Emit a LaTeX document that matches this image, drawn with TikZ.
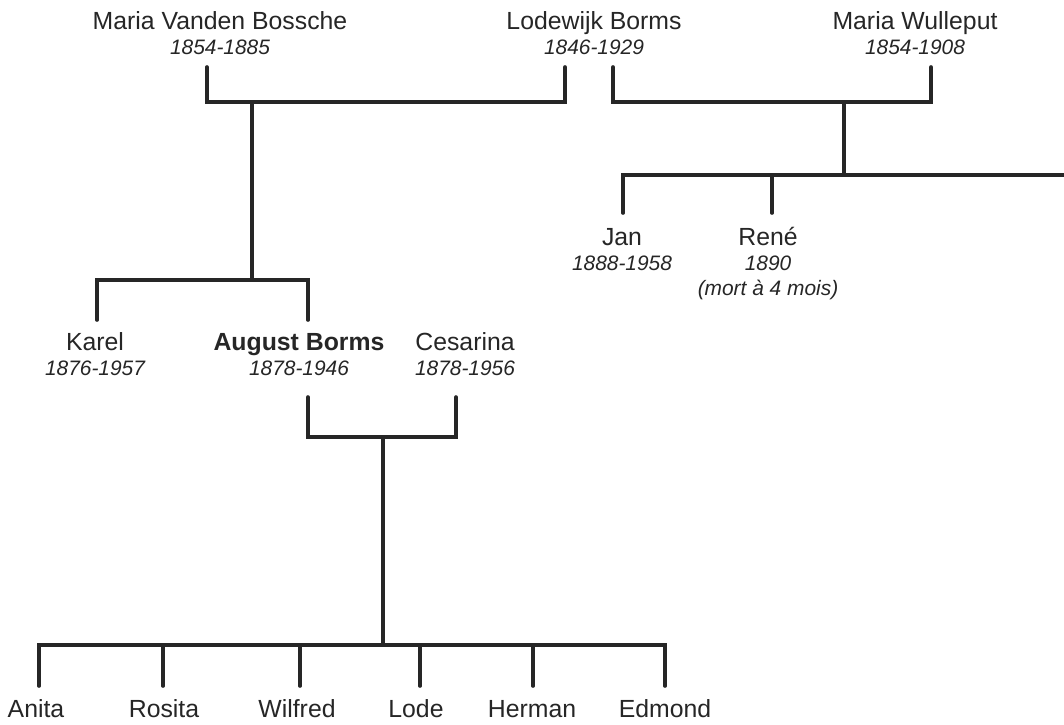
\documentclass[tikz,border=0pt]{standalone}
\usepackage{fontspec}
\setmainfont{Liberation Sans}
\usetikzlibrary{positioning}
\definecolor{ink}{HTML}{262626}
\newcommand\namesize{\fontsize{12.4}{12.7}\selectfont}
\newcommand\yrs[1]{{\fontsize{10.45}{12.7}\selectfont\itshape #1}}

\begin{document}
\begin{tikzpicture}[x=0.5pt,y=-0.5pt,line width=1.8pt,line cap=round,color=ink,
  person/.style={align=center,inner sep=0pt,anchor=north,font=\namesize}]
\useasboundingbox[fill=white] (0,0) rectangle (1064,724);
% grandparents
\node [person] (mvb) at (220,9) {\vphantom{Mé}Maria Vanden Bossche\\\yrs{1854-1885}};
\node [person] (lodewijk) at (594,9) {\vphantom{Mé}Lodewijk Borms\\\yrs{1846-1929}};
\node [person] (wulleput) at (915,9) {\vphantom{Mé}Maria Wulleput\\\yrs{1854-1908}};
% children of Lodewijk
\node [person] (karel) at (95,330) {\vphantom{Mé}Karel\\\yrs{1876-1957}};
\node [person] (august) at (299,330) {\vphantom{Mé}\textbf{August Borms}\\\yrs{1878-1946}};
\node [person] (cesarina) at (465,330) {\vphantom{Mé}Cesarina\\\yrs{1878-1956}};
\node [person] (jan) at (622,225) {\vphantom{Mé}Jan\\\yrs{1888-1958}};
\node [person] (rene) at (768,225) {\vphantom{Mé}René\\\yrs{1890}\\\yrs{(mort à 4 mois)}};
% junctions
\coordinate (mvb-up) at (207,67);
\coordinate (lodewijk-left) at (565,67);
\coordinate (lodewijk-right) at (613,67);
\coordinate (wulleput-up) at (931,67);
\coordinate (m1) at (252,102);
\coordinate (m2) at (844,102);
\coordinate (sib1) at (252,280);
\coordinate (sib2) at (844,175);
\coordinate (karel-up) at (97,320);
\coordinate (august-up) at (308,320);
\coordinate (jan-up) at (623,213);
\coordinate (rene-up) at (772,213);
\coordinate (bar-end) at (1064,175);
\coordinate (august-down) at (308,397);
\coordinate (cesarina-down) at (456,397);
\coordinate (m3) at (383,437);
\coordinate (sib3) at (383,645);
% grandchildren
\foreach \kid/\name/\x/\lx in {anita/Anita/36/39,rosita/Rosita/164/163,wilfred/Wilfred/297/300,
  lode/Lode/416/420,herman/Herman/532/533,edmond/Edmond/665/665}{
  \node [person] (\kid) at (\x,697) {\vphantom{Mé}\name};
  \coordinate (\kid-up) at (\lx,686);
}
\draw (mvb-up) |- (m1) -| (lodewijk-left);
\draw (m1) -- (sib1);
\draw (karel-up) |- (sib1) -| (august-up);
\draw (lodewijk-right) |- (m2) -| (wulleput-up);
\draw (m2) -- (sib2);
\draw (jan-up) |- (sib2) -- (bar-end);
\draw (rene-up) -- (rene-up |- sib2);
\draw (august-down) |- (m3) -| (cesarina-down);
\draw (m3) -- (sib3);
\draw (anita-up) |- (sib3) -| (edmond-up);
\foreach \kid in {rosita,wilfred,lode,herman}
  \draw (\kid-up) -- (\kid-up |- sib3);
\end{tikzpicture}
\end{document}
